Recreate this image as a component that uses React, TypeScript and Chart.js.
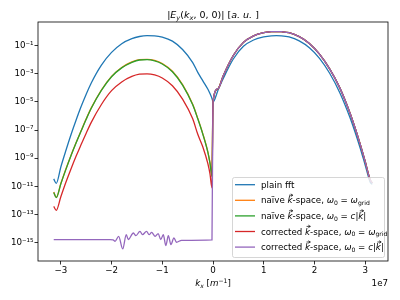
import React, { useEffect, useRef } from "react";
import { Chart, registerables } from "chart.js";

Chart.register(...registerables);

// k_x sample positions, in units of 1e7 m^-1
const K_LEFT = [-3.14, -3.09, -3.0, -2.9, -2.8, -2.7, -2.6, -2.5, -2.4, -2.2, -2.0, -1.8, -1.6, -1.45, -1.3, -1.15, -1.0, -0.8, -0.6, -0.4, -0.3, -0.2, -0.1, -0.06, -0.02, 0];
const K_RIGHT = [0.1, 0.2, 0.4, 0.6, 0.8, 1.0, 1.15, 1.25, 1.35, 1.5, 1.7, 1.9, 2.1, 2.3, 2.5, 2.7, 2.8, 2.9, 3.0, 3.1, 3.14];
const K_PURPLE_LEFT = [-3.14, -2.03, -1.97, -1.93, -1.86, -1.78, -1.71, -1.67, -1.57, -1.52, -1.44, -1.39, -1.31, -1.26, -1.21, -1.14, -1.08, -1.03, -0.98, -0.93, -0.88, -0.83, -0.77, -0.72, -0.62, -0.02, 0];

// log10 |E_y| values
const BLUE_LEFT = [-10.47, -10.78, -9.62, -8.45, -7.33, -6.3, -5.33, -4.45, -3.65, -2.38, -1.48, -0.86, -0.5, -0.35, -0.29, -0.3, -0.39, -0.68, -1.27, -2.2, -2.9, -3.5, -4.1, -4.4, -4.75, -5.0];
const BLUE_RIGHT = [-4.15, -3.35, -1.95, -1.05, -0.6, -0.38, -0.3, -0.29, -0.3, -0.38, -0.66, -1.15, -1.9, -2.96, -4.34, -6.1, -7.13, -8.25, -9.48, -10.7, -10.85];
const ORANGE_LEFT = [-11.4, -11.78, -10.8, -9.77, -8.8, -7.9, -7.04, -6.2, -5.42, -4.15, -3.18, -2.55, -2.16, -1.99, -1.97, -2.05, -2.27, -2.82, -3.77, -5.17, -6.17, -7.27, -8.57, -9.3, -10.2, -5.0];
const GREEN_LEFT = [-11.43, -11.8, -10.82, -9.79, -8.82, -7.92, -7.07, -6.23, -5.45, -4.18, -3.21, -2.58, -2.19, -2.02, -2.0, -2.08, -2.3, -2.85, -3.8, -5.2, -6.2, -7.3, -8.6, -9.35, -10.3, -5.0];
const RED_LEFT = [-12.42, -12.7, -11.74, -10.71, -9.76, -8.86, -8.03, -7.22, -6.45, -5.18, -4.2, -3.58, -3.19, -3.03, -3.0, -3.08, -3.3, -3.85, -4.8, -6.2, -7.3, -8.2, -9.4, -10.1, -11.1, -5.0];
const PURPLE_LEFT = [-14.78, -14.78, -14.8, -14.9, -14.55, -15.44, -14.43, -14.78, -14.31, -14.5, -14.19, -14.43, -14.19, -14.43, -14.27, -14.55, -14.35, -14.78, -14.43, -15.2, -14.5, -15.13, -14.66, -14.97, -14.83, -14.8, -5.0];
const KSPACE_RIGHT = [-4.05, -3.15, -1.7, -0.77, -0.3, -0.08, -0.01, 0.0, -0.01, -0.08, -0.36, -0.84, -1.6, -2.65, -4.0, -5.78, -6.83, -7.98, -9.23, -10.55, -10.75];

const X_TICKS = [-3, -2, -1, 0, 1, 2, 3];
const Y_TICK_EXPS = [-15, -13, -11, -9, -7, -5, -3, -1];
const COLORS = ["#1f77b4", "#ff7f0e", "#2ca02c", "#d62728", "#9467bd"];

type Seg = { t: string; it?: boolean; sub?: boolean; sup?: boolean; vec?: boolean };

const TITLE: Seg[] = [
  { t: "|" }, { t: "E", it: true }, { t: "y", it: true, sub: true }, { t: "(" },
  { t: "k", it: true }, { t: "x", it: true, sub: true }, { t: ", 0, 0)| [" },
  { t: "a. u. ", it: true }, { t: "]" },
];
const XLABEL: Seg[] = [
  { t: "k", it: true }, { t: "x", it: true, sub: true }, { t: " [" },
  { t: "m", it: true }, { t: "−1", sup: true }, { t: "]" },
];
const LEGEND_LABELS: Seg[][] = [
  [{ t: "plain fft" }],
  [{ t: "naïve " }, { t: "k", it: true, vec: true }, { t: "-space, " }, { t: "ω", it: true }, { t: "0", sub: true }, { t: " = " }, { t: "ω", it: true }, { t: "grid", sub: true }],
  [{ t: "naïve " }, { t: "k", it: true, vec: true }, { t: "-space, " }, { t: "ω", it: true }, { t: "0", sub: true }, { t: " = " }, { t: "c", it: true }, { t: "|" }, { t: "k", it: true, vec: true }, { t: "|" }],
  [{ t: "corrected " }, { t: "k", it: true, vec: true }, { t: "-space, " }, { t: "ω", it: true }, { t: "0", sub: true }, { t: " = " }, { t: "ω", it: true }, { t: "grid", sub: true }],
  [{ t: "corrected " }, { t: "k", it: true, vec: true }, { t: "-space, " }, { t: "ω", it: true }, { t: "0", sub: true }, { t: " = " }, { t: "c", it: true }, { t: "|" }, { t: "k", it: true, vec: true }, { t: "|" }],
];

const FONT = '"DejaVu Sans"';
const SUP: Record<string, string> = { "-": "⁻", "0": "⁰", "1": "¹", "2": "²", "3": "³", "4": "⁴", "5": "⁵", "6": "⁶", "7": "⁷", "8": "⁸", "9": "⁹" };

function fontFor(s: Seg, size: number) {
  const fs = s.sub || s.sup ? size * 0.7 : size;
  return `${s.it ? "italic " : ""}${fs}px ${FONT}`;
}
function richWidth(c: CanvasRenderingContext2D, segs: Seg[], size: number) {
  let w = 0;
  for (const s of segs) { c.font = fontFor(s, size); w += c.measureText(s.t).width; }
  return w;
}
function drawRich(c: CanvasRenderingContext2D, segs: Seg[], x: number, y: number, size: number, align: "left" | "center" | "right") {
  const w = richWidth(c, segs, size);
  let cx = align === "center" ? x - w / 2 : align === "right" ? x - w : x;
  c.textAlign = "left";
  c.textBaseline = "alphabetic";
  c.fillStyle = "#000";
  for (const s of segs) {
    c.font = fontFor(s, size);
    const dy = s.sub ? size * 0.22 : s.sup ? -size * 0.4 : 0;
    c.fillText(s.t, cx, y + dy);
    const sw = c.measureText(s.t).width;
    if (s.vec) {
      const ay = y - size * 0.93;
      const x0 = cx + sw * 0.3, x1 = cx + sw * 1.05;
      c.save();
      c.strokeStyle = "#000";
      c.lineWidth = 0.7;
      c.beginPath();
      c.moveTo(x0, ay); c.lineTo(x1, ay);
      c.moveTo(x1 - 2, ay - 1.3); c.lineTo(x1, ay); c.lineTo(x1 - 2, ay + 1.3);
      c.stroke();
      c.restore();
    }
    cx += sw;
  }
}

const annotPlugin = {
  id: "annot",
  afterDraw(chart: any) {
    const c: CanvasRenderingContext2D = chart.ctx;
    const a = chart.chartArea;
    c.save();
    c.strokeStyle = "#000";
    c.lineWidth = 0.8;
    c.strokeRect(a.left, a.top, a.right - a.left, a.bottom - a.top);
    const mid = (a.left + a.right) / 2;
    drawRich(c, TITLE, mid, 18, 9.5, "center");
    drawRich(c, XLABEL, mid, 286, 8.7, "center");
    c.font = `8.7px ${FONT}`;
    c.textAlign = "right";
    c.fillStyle = "#000";
    c.fillText("1e7", a.right, 286);

    // legend
    const lx = 232, ly = 177, lw = 152, lh = 80;
    c.beginPath();
    (c as any).roundRect(lx + 0.5, ly + 0.5, lw, lh, 2);
    c.fillStyle = "rgba(255,255,255,0.8)";
    c.fill();
    c.strokeStyle = "#cccccc";
    c.lineWidth = 0.8;
    c.stroke();
    LEGEND_LABELS.forEach((segs, i) => {
      const cy = 184.7 + i * 15.6;
      c.strokeStyle = COLORS[i];
      c.lineWidth = 1.3;
      c.beginPath();
      c.moveTo(235, cy);
      c.lineTo(255, cy);
      c.stroke();
      drawRich(c, segs, 261, cy + 3, 8.7, "left");
    });
    c.restore();
  },
};

function pts(ks: number[], logs: number[]) {
  return ks.map((k, i) => ({ x: k * 1e7, y: Math.pow(10, logs[i]) }));
}

export default function App() {
  const ref = useRef<HTMLCanvasElement | null>(null);
  useEffect(() => {
    if (!ref.current) return;
    const series = [
      { label: "plain fft", data: [...pts(K_LEFT, BLUE_LEFT), ...pts(K_RIGHT, BLUE_RIGHT)] },
      { label: "naïve k-space, ω0 = ωgrid", data: [...pts(K_LEFT, ORANGE_LEFT), ...pts(K_RIGHT, KSPACE_RIGHT)] },
      { label: "naïve k-space, ω0 = c|k|", data: [...pts(K_LEFT, GREEN_LEFT), ...pts(K_RIGHT, KSPACE_RIGHT)] },
      { label: "corrected k-space, ω0 = ωgrid", data: [...pts(K_LEFT, RED_LEFT), ...pts(K_RIGHT, KSPACE_RIGHT)] },
      { label: "corrected k-space, ω0 = c|k|", data: [...pts(K_PURPLE_LEFT, PURPLE_LEFT), ...pts(K_RIGHT, KSPACE_RIGHT)] },
    ];
    const chart = new Chart(ref.current, {
      type: "line",
      data: {
        datasets: series.map((s, i) => ({
          label: s.label,
          data: s.data,
          borderColor: COLORS[i],
          backgroundColor: COLORS[i],
          borderWidth: 1.3,
          pointRadius: 0,
          fill: false,
          cubicInterpolationMode: "monotone" as const,
          order: 4 - i,
        })),
      },
      options: {
        responsive: false,
        animation: false,
        events: [],
        layout: { padding: { left: 0, right: 12, top: 22, bottom: 0 } },
        plugins: { legend: { display: false }, title: { display: false }, tooltip: { enabled: false } },
        scales: {
          x: {
            type: "linear",
            min: -3.45e7,
            max: 3.45e7,
            afterBuildTicks: (s: any) => { s.ticks = X_TICKS.map((v) => ({ value: v * 1e7 })); },
            afterFit: (s: any) => { s.height = 39; },
            ticks: {
              color: "#000",
              font: { family: "DejaVu Sans", size: 8.7 },
              padding: 1,
              maxRotation: 0,
              autoSkip: false,
              callback: (v: any) => { const n = Math.round(Number(v) / 1e7); return n < 0 ? "−" + Math.abs(n) : String(n); },
            },
            grid: { drawOnChartArea: false, color: "#000", tickColor: "#000", tickLength: 3.5, lineWidth: 0.8, tickWidth: 0.8 },
            border: { display: false },
          },
          y: {
            type: "logarithmic",
            min: Math.pow(10, -16.28),
            max: Math.pow(10, 0.68),
            afterBuildTicks: (s: any) => { s.ticks = Y_TICK_EXPS.map((e) => ({ value: Math.pow(10, e) })); },
            afterFit: (s: any) => { s.width = 38; },
            ticks: {
              color: "#000",
              font: { family: "DejaVu Sans", size: 8.7 },
              padding: 1,
              autoSkip: false,
              callback: (v: any) => {
                const e = Math.round(Math.log10(Number(v)));
                return "10" + String(e).split("").map((ch) => SUP[ch] || ch).join("");
              },
            },
            grid: { drawOnChartArea: false, color: "#000", tickColor: "#000", tickLength: 3.5, lineWidth: 0.8, tickWidth: 0.8 },
            border: { display: false },
          },
        },
      },
      plugins: [annotPlugin],
    });
    return () => chart.destroy();
  }, []);
  return (
    <div style={{ position: "fixed", left: 0, top: 0, width: 400, height: 300, background: "#fff" }}>
      <canvas ref={ref} width={400} height={300} />
    </div>
  );
}
